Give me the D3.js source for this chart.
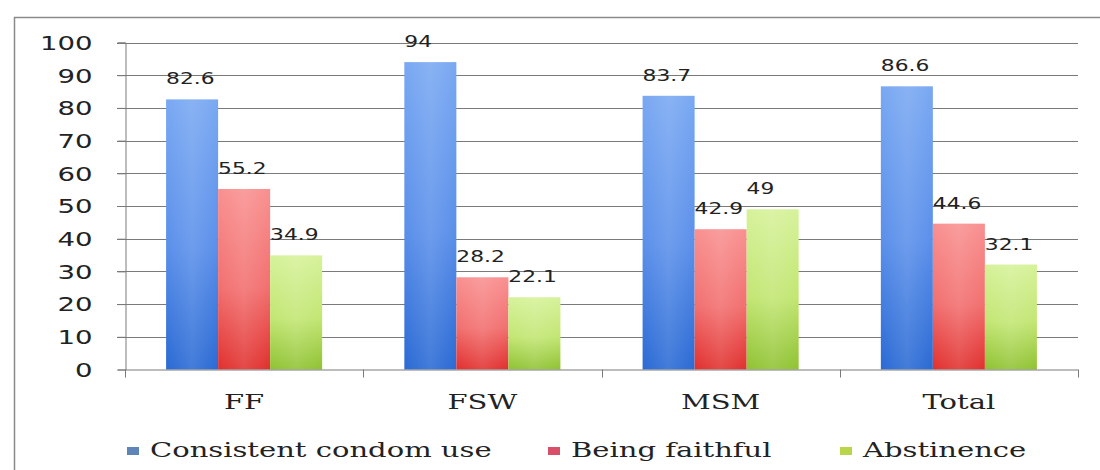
<!DOCTYPE html>
<html>
<head>
<meta charset="utf-8">
<script src="https://cdn.jsdelivr.net/npm/d3@7"></script>
<style>
  html, body { margin: 0; padding: 0; background: #fff; }
  svg { display: block; }
</style>
</head>
<body>
<svg id="chart" width="1100" height="470"></svg>
<script>
const categories = ["FF", "FSW", "MSM", "Total"];
const seriesNames = ["Consistent condom use", "Being faithful", "Abstinence"];
const condomUse = [82.6, 94, 83.7, 86.6];
const beingFaithful = [55.2, 28.2, 42.9, 44.6];
const abstinence = [34.9, 22.1, 49, 32.1];
const yTicks = [0, 10, 20, 30, 40, 50, 60, 70, 80, 90, 100];

const seriesValues = [condomUse, beingFaithful, abstinence];
const colors = [
  { top: "#79a8f2", mid: "#5a8fea", bot: "#2a6ad4", legend: "#5f84b8" },
  { top: "#f99090", mid: "#f26f6f", bot: "#e0302e", legend: "#d94f6a" },
  { top: "#d6f29a", mid: "#c2e673", bot: "#8fc232", legend: "#b9d64a" }
];

const STRETCH = 1.45;
function stretch(sel, f) {
  sel.each(function () {
    const w = this.getComputedTextLength();
    d3.select(this).attr("textLength", w * (f || STRETCH)).attr("lengthAdjust", "spacingAndGlyphs");
  });
}

const svg = d3.select("#chart");
const defs = svg.append("defs");
colors.forEach((c, i) => {
  const g = defs.append("linearGradient").attr("id", "grad" + i)
    .attr("x1", 0).attr("y1", 0).attr("x2", 0).attr("y2", 1);
  g.append("stop").attr("offset", "0%").attr("stop-color", c.top);
  g.append("stop").attr("offset", "55%").attr("stop-color", c.mid);
  g.append("stop").attr("offset", "100%").attr("stop-color", c.bot);
  const h = defs.append("linearGradient").attr("id", "hgrad" + i)
    .attr("x1", 0).attr("y1", 0).attr("x2", 1).attr("y2", 0);
  h.append("stop").attr("offset", "0%").attr("stop-color", "#fff").attr("stop-opacity", 0.0);
  h.append("stop").attr("offset", "50%").attr("stop-color", "#fff").attr("stop-opacity", 0.12);
  h.append("stop").attr("offset", "100%").attr("stop-color", "#fff").attr("stop-opacity", 0.0);
});

// outer frame
svg.append("line").attr("x1", 14.5).attr("x2", 14.5).attr("y1", 17).attr("y2", 470)
  .attr("stroke", "#8a8a8a").attr("stroke-width", 1.5);
svg.append("line").attr("x1", 14).attr("x2", 1100).attr("y1", 17.5).attr("y2", 17.5)
  .attr("stroke", "#8a8a8a").attr("stroke-width", 1.5);

const plotLeft = 125, plotRight = 1078, plotTop = 42.5, plotBottom = 369.5;

const y = d3.scaleLinear().domain([0, 100]).range([plotBottom, plotTop]);
const x0 = d3.scaleBand().domain(categories).range([plotLeft, plotRight]).padding(0);
const x1 = d3.scaleBand().domain(d3.range(seriesNames.length))
  .range([0, x0.bandwidth()]).paddingInner(0).paddingOuter(0.79);

// gridlines
svg.append("g").selectAll("line").data(yTicks.filter(t => t > 0)).join("line")
  .attr("x1", plotLeft - 8).attr("x2", plotRight)
  .attr("y1", d => Math.round(y(d)) + 0.5).attr("y2", d => Math.round(y(d)) + 0.5)
  .attr("stroke", "#7a7a7a").attr("stroke-width", 1);

// y axis
const yAxis = svg.append("g").attr("transform", `translate(${plotLeft + 0.5},0)`)
  .call(d3.axisLeft(y).tickValues(yTicks).tickSize(8).tickPadding(25).tickFormat(d3.format("d")));
yAxis.select(".domain").attr("stroke", "#7a7a7a");
yAxis.selectAll(".tick line").attr("stroke", "#7a7a7a");
yAxis.selectAll("text").attr("font-family", "DejaVu Sans").attr("font-size", 19)
  .attr("fill", "#222").attr("dy", "0.36em");
stretch(yAxis.selectAll("text"));

// bars
const groups = svg.append("g").selectAll("g").data(categories).join("g")
  .attr("transform", d => `translate(${x0(d)},0)`);

groups.each(function (cat, ci) {
  const g = d3.select(this);
  seriesValues.forEach((vals, si) => {
    const v = vals[ci];
    g.append("rect").attr("x", x1(si)).attr("width", x1.bandwidth())
      .attr("y", y(v)).attr("height", y(0) - y(v)).attr("fill", `url(#grad${si})`);
    g.append("rect").attr("x", x1(si)).attr("width", x1.bandwidth())
      .attr("y", y(v)).attr("height", y(0) - y(v)).attr("fill", `url(#hgrad${si})`);
  });
});

// value labels
groups.each(function (cat, ci) {
  const g = d3.select(this);
  seriesValues.forEach((vals, si) => {
    const v = vals[ci];
    const t = g.append("text").attr("x", x1(si)).attr("y", y(v) - 15)
      .attr("font-family", "DejaVu Sans").attr("font-size", 15).attr("fill", "#222")
      .text(v);
    stretch(t);
  });
});

// x axis
const xAxis = svg.append("g").attr("transform", `translate(0,${plotBottom})`);
xAxis.append("line").attr("x1", plotLeft).attr("x2", plotRight).attr("y1", 0.5).attr("y2", 0.5)
  .attr("stroke", "#7a7a7a");
xAxis.selectAll("line.tk").data(categories.map(c => x0(c)).concat([plotRight])).join("line")
  .attr("class", "tk")
  .attr("x1", d => Math.round(d) + 0.5).attr("x2", d => Math.round(d) + 0.5)
  .attr("y1", 0).attr("y2", 8).attr("stroke", "#7a7a7a");
const xl = xAxis.selectAll("text").data(categories).join("text")
  .attr("x", d => x0(d) + x0.bandwidth() / 2).attr("y", 39)
  .attr("text-anchor", "middle")
  .attr("font-family", "DejaVu Serif").attr("font-size", 20).attr("fill", "#222")
  .text(d => d);
stretch(xl);

// legend
const legendX = [127, 548, 840];
const legend = svg.append("g");
seriesNames.forEach((name, i) => {
  legend.append("rect").attr("x", legendX[i]).attr("y", 447).attr("width", 12).attr("height", 8)
    .attr("fill", colors[i].legend);
  const t = legend.append("text").attr("x", legendX[i] + 23).attr("y", 457)
    .attr("font-family", "DejaVu Serif").attr("font-size", 20).attr("fill", "#222")
    .text(name);
  stretch(t);
});
</script>
</body>
</html>
